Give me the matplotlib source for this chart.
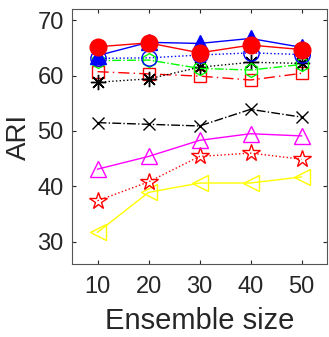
import matplotlib

matplotlib.use("Agg")

import matplotlib.pyplot as plt

plt.rcParams["font.family"] = ["Liberation Sans", "DejaVu Sans"]

ensemble_size = [10, 20, 30, 40, 50]

# one list per method, drawn bottom layer first
yellow_tri = [31.7, 38.9, 40.6, 40.6, 41.7]
red_star = [37.4, 40.8, 45.4, 46.0, 44.9]
magenta_tri = [43.1, 45.4, 48.3, 49.5, 49.1]
black_x = [51.5, 51.2, 50.9, 53.9, 52.5]
red_square = [60.7, 60.3, 59.9, 59.2, 60.4]
black_star = [58.8, 59.4, 61.5, 62.4, 62.2]
green_hex = [62.7, 62.8, 61.3, 61.0, 62.0]
blue_circle = [63.1, 63.2, 63.7, 64.1, 63.8]
blue_tri = [63.6, 66.0, 65.8, 66.7, 65.1]
red_circle = [65.2, 65.9, 64.1, 65.5, 64.7]

series = [
    (yellow_tri, dict(color=(1, 1, 0), ls="-", marker="<", ms=12, mfc="none")),
    (red_star, dict(color="red", ls=":", marker="*", ms=13, mfc="none")),
    (magenta_tri, dict(color=(1, 0, 1), ls="-", marker="^", ms=12, mfc="none")),
    (black_x, dict(color="black", ls="-.", marker="x", ms=9)),
    (red_square, dict(color="red", ls=(0, (8, 3, 1, 3)), marker="s", ms=9, mfc="none")),
    (black_star, dict(color="black", ls=":", marker=(8, 2, 0), ms=11)),
    (green_hex, dict(color=(0, 1, 0), ls="-.", marker="h", ms=10, mfc="none")),
    (blue_circle, dict(color="blue", ls=":", marker="o", ms=11, mfc="none")),
    (blue_tri, dict(color="blue", ls="-", marker="^", ms=11, mfc="blue")),
    (red_circle, dict(color="red", ls="-", marker="o", ms=12, mfc="red")),
]

fig = plt.figure(figsize=(3.29, 3.37), dpi=100)
ax = fig.add_axes([0.219, 0.217, 0.775, 0.756])
for values, style in series:
    ax.plot(ensemble_size, values, lw=1.0, mew=1.0, **style)

ax.set_xlim(5, 55)
ax.set_ylim(26, 72)
ax.set_xticks(ensemble_size)
ax.set_yticks([30, 40, 50, 60, 70])
ax.tick_params(direction="in", top=True, right=True, labelsize=17, colors="#262626", length=3)
ax.tick_params(axis="x", pad=9)
ax.tick_params(axis="y", pad=6)
for spine in ax.spines.values():
    spine.set_color("#555555")
ax.set_xlabel("Ensemble size", fontsize=21, color="#262626", labelpad=6)
ax.set_ylabel("ARI", fontsize=20, color="#262626", labelpad=4)

fig.savefig("out.png", dpi=100)
